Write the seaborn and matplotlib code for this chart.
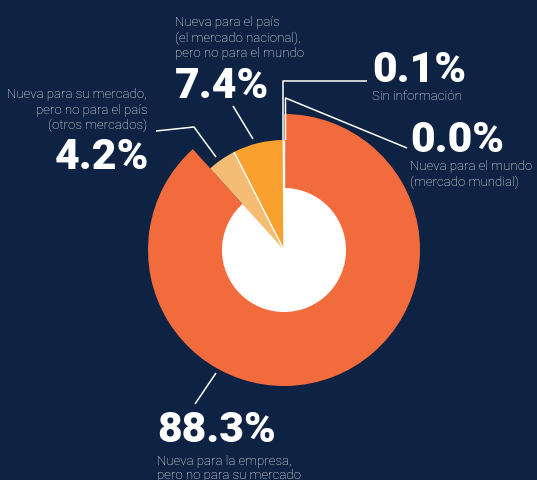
import matplotlib
matplotlib.use("Agg")
import numpy as np
import matplotlib.pyplot as plt
import seaborn as sns
from matplotlib.patches import Circle
from matplotlib import font_manager as fm
import matplotlib.patheffects as pe

# ---- data ----
categories = ["Nueva para el mundo (mercado mundial)",
              "Sin información",
              "Nueva para el país (el mercado nacional), pero no para el mundo",
              "Nueva para su mercado, pero no para el país (otros mercados)",
              "Nueva para la empresa, pero no para su mercado"]
values = [0.0, 0.1, 7.4, 4.2, 88.3]
value_labels = ["0.0%", "0.1%", "7.4%", "4.2%", "88.3%"]
colors = ["#f26b3c", "#f26b3c", "#f9a02f", "#f5bc73", "#f26b3c"]

BG = "#0e2343"

sns.set_theme(style="white")
plt.rcParams['font.family'] = ['Roboto', 'DejaVu Sans']


def max_weight(fam):
    best = 0
    for f in fm.fontManager.ttflist:
        if f.name == fam:
            w = f.weight
            if isinstance(w, str):
                w = fm.weight_dict.get(w, 400)
            best = max(best, int(w))
    return best


num_family, num_weight, stroke = "Roboto", "bold", True
for fam in ["Roboto", "Lato", "Inter", "Open Sans"]:
    if max_weight(fam) >= 800:
        num_family, num_weight, stroke = fam, max_weight(fam), False
        break

W, H = 537, 481
fig = plt.figure(figsize=(W / 100, H / 100), dpi=100, facecolor=BG)
ax = fig.add_axes([0, 0, 1, 1])
ax.set_facecolor(BG)

CX, CY, R = 284, 251, 136.0


def P(px, py):
    return ((px - CX) / R, (CY - py) / R)


wedges, _ = ax.pie(values, colors=colors, startangle=90, counterclock=True,
                   radius=1.0, wedgeprops=dict(linewidth=0))
big = values.index(max(values))
for i, w in enumerate(wedges):
    if i == big:
        w.set_zorder(1)
    else:
        w.set_radius(110 / R)
        w.set_zorder(3)

ax.add_patch(Circle((0, 0), 62 / R, facecolor="white", edgecolor="none", zorder=2))

# white separators between the small wedges
for i in range(len(wedges) - 1):
    if i == big or i + 1 == big:
        continue
    th = np.deg2rad(wedges[i].theta2)
    r = wedges[i].r
    ax.plot([0, r * np.cos(th)], [0, r * np.sin(th)], color="white", lw=1.0,
            zorder=3.5, solid_capstyle="butt")

ax.set_xlim(-CX / R, (W - CX) / R)
ax.set_ylim(-(H - CY) / R, CY / R)
ax.set_aspect("equal")
ax.axis("off")

# ---- leader lines ----
lc = dict(color="white", lw=1.1, zorder=4, solid_capstyle="butt")
leaders = [
    [(285.5, 141), (285.5, 99), (407, 149)],      # 0.0%
    [(283, 141), (283, 82), (367, 82)],           # 0.1%
    [(253, 140), (233, 107)],                     # 7.4%
    [(216, 158), (194, 128), (156, 132)],         # 4.2%
    [(216, 374), (195, 405)],                     # 88.3%
]
for pts in leaders:
    xs, ys = zip(*[P(*p) for p in pts])
    ax.plot(xs, ys, **lc)

# ---- font sizes fitted to reference text widths ----
renderer = fig.canvas.get_renderer()


def width_at(txt, size, **kw):
    t = ax.text(0, 0, txt, fontsize=size, **kw)
    w = t.get_window_extent(renderer).width
    t.remove()
    return w


nfam = [num_family, 'DejaVu Sans']
extra = 2.0 if stroke else 0.0
num_size = 30 * (119 - extra) / width_at("88.3%", 30, family=nfam, fontweight=num_weight)
num_size = min(num_size, 31.5)

sm_w = (width_at("Nueva para su mercado,", 10, fontweight="light") / 137 +
        width_at("pero no para el mundo", 10, fontweight="light") / 131 +
        width_at("Nueva para el mundo", 10, fontweight="light") / 124) / 3
sm_size = 10 / sm_w

NUM = dict(color="white", fontsize=num_size, fontweight=num_weight,
           family=nfam, va="baseline", zorder=5)
if stroke:
    NUM["path_effects"] = [pe.withStroke(linewidth=1.4, foreground="white")]
SM = dict(color="white", fontsize=sm_size, fontweight="light", va="baseline", zorder=5)

ax.text(*P(372, 82), value_labels[1], ha="left", **NUM)
ax.text(*P(372, 100), "Sin información", ha="left", **SM)

ax.text(*P(410, 152), value_labels[0], ha="left", **NUM)
for t, y in zip(["Nueva para el mundo", "(mercado mundial)"], [170, 186]):
    ax.text(*P(410, y), t, ha="left", **SM)

for t, y in zip(["Nueva para el país", "(el mercado nacional),", "pero no para el mundo"],
                [26, 42, 57]):
    ax.text(*P(175, y), t, ha="left", **SM)
ax.text(*P(175, 98), value_labels[2], ha="left", **NUM)

for t, y in zip(["Nueva para su mercado,", "pero no para el país", "(otros mercados)"],
                [98, 114, 129]):
    ax.text(*P(147, y), t, ha="right", **SM)
ax.text(*P(149, 169), value_labels[3], ha="right", **NUM)

ax.text(*P(157, 442), value_labels[4], ha="left", **NUM)
for t, y in zip(["Nueva para la empresa,", "pero no para su mercado"], [465, 479]):
    ax.text(*P(157, y), t, ha="left", **SM)

fig.savefig("out.png", dpi=100, facecolor=BG)
